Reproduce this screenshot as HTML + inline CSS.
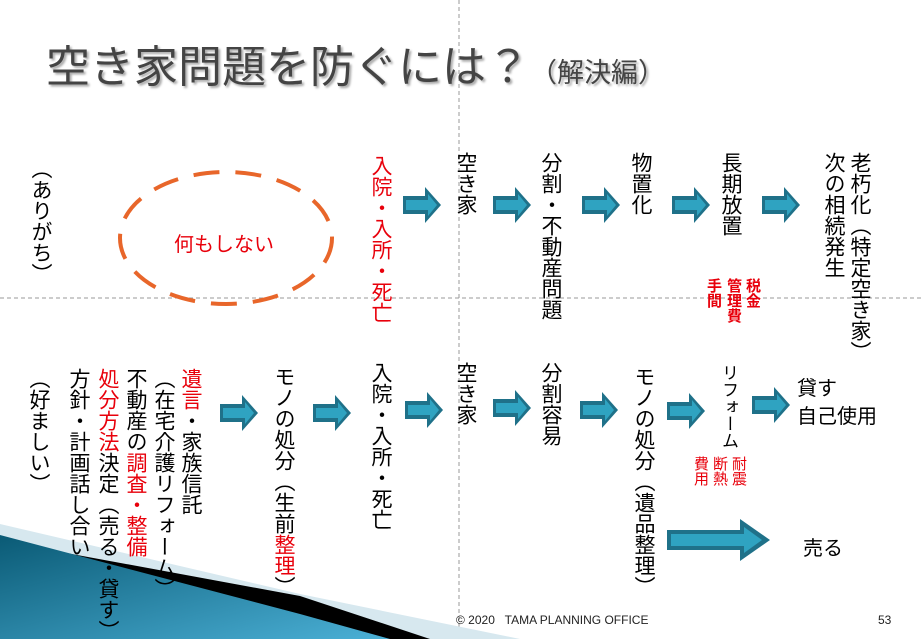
<!DOCTYPE html>
<html><head><meta charset="utf-8"><style>
body{margin:0;width:922px;height:639px;overflow:hidden;background:#fff;position:relative;font-family:"Liberation Sans","Noto Sans CJK JP",sans-serif;}
.v{position:absolute;writing-mode:vertical-rl;font-size:21px;line-height:26px;color:#000;white-space:nowrap;}
.r{color:#e8000b;}
.s{position:absolute;writing-mode:vertical-rl;font-size:15px;line-height:17px;color:#e8000b;font-weight:bold;white-space:nowrap;}
.h{position:absolute;font-size:20px;white-space:nowrap;}
svg{position:absolute;left:0;top:0;}
</style></head><body>
<svg width="922" height="639">
<defs>
<linearGradient id="bg" x1="0" y1="0" x2="1" y2="1"><stop offset="0" stop-color="#0a5a75"/><stop offset="1" stop-color="#4bb0d6"/></linearGradient>
<g id="ar"><path d="M0,-9 H22 V-18 L38,0 L22,18 V9 H0 Z" fill="#1f7189"/><path d="M3,-5 H25 V-11 L34,0 L25,11 V5 H3 Z" fill="#2fa3c1"/></g>
</defs>
<line x1="459" y1="0" x2="459" y2="639" stroke="#999" stroke-dasharray="4,3"/>
<line x1="0" y1="298" x2="922" y2="298" stroke="#999" stroke-dasharray="4,3"/>
<polygon points="0,524 300,594 520,639 0,639" fill="#d7e8ef"/>
<polygon points="50,550 300,596 430,639 0,639" fill="#000"/>
<polygon points="0,535 300,614 390,639 0,639" fill="url(#bg)"/>
<ellipse cx="226" cy="238" rx="106" ry="66" fill="none" stroke="#e8662a" stroke-width="4" stroke-dasharray="26,16"/>
<use href="#ar" x="403" y="205"/>
<use href="#ar" x="493" y="205"/>
<use href="#ar" x="582" y="205"/>
<use href="#ar" x="672" y="205"/>
<use href="#ar" x="762" y="205"/>
<use href="#ar" x="220" y="413"/>
<use href="#ar" x="313" y="413"/>
<use href="#ar" x="405" y="410"/>
<use href="#ar" x="493" y="408"/>
<use href="#ar" x="580" y="410"/>
<use href="#ar" x="667" y="411"/>
<use href="#ar" x="752" y="405"/>
<path d="M667,530 H740 V519 L770,540 L740,561 V550 H667 Z" fill="#1f7189"/>
<path d="M671,534 H744 V527 L762,540 L744,553 V546 H671 Z" fill="#2fa3c1"/>
</svg>
<div style="position:absolute;left:46px;top:42px;font-size:44px;line-height:52px;color:#444;text-shadow:2px 2px 2px #aaa;white-space:nowrap;">空き家問題を防ぐには？<span style="font-size:27px">（解決編）</span></div>

<div class="v" style="left:27px;top:158px;">（ありがち）</div>
<div class="h r" style="left:174px;top:228px;">何もしない</div>
<div class="v r" style="left:367px;top:155px;">入院・入所・死亡</div>
<div class="v" style="left:452px;top:152px;">空き家</div>
<div class="v" style="left:537px;top:152px;">分割・不動産問題</div>
<div class="v" style="left:627px;top:152px;">物置化</div>
<div class="v" style="left:717px;top:152px;">長期放置</div>
<div class="v" style="left:846px;top:152px;">老朽化（特定空き家）</div>
<div class="v" style="left:820px;top:152px;">次の相続発生</div>
<div class="s" style="left:744px;top:278px;">税金</div>
<div class="s" style="left:725px;top:278px;">管理費</div>
<div class="s" style="left:705px;top:278px;">手間</div>

<div class="v" style="left:25px;top:368px;">（好ましい）</div>
<div class="v" style="left:177px;top:368px;"><span class="r">遺言</span>・家族信託</div>
<div class="v" style="left:150px;top:368px;">（在宅介護リフォーム）</div>
<div class="v" style="left:122px;top:368px;">不動産の<span class="r">調査・整備</span></div>
<div class="v" style="left:94px;top:368px;"><span class="r">処分方法</span>決定（売る・貸す）</div>
<div class="v" style="left:65px;top:368px;">方針・計画話し合い</div>
<div class="v" style="left:270px;top:366px;">モノの処分（生前<span class="r">整理</span>）</div>
<div class="v" style="left:367px;top:362px;">入院・入所・死亡</div>
<div class="v" style="left:452px;top:362px;">空き家</div>
<div class="v" style="left:537px;top:362px;">分割容易</div>
<div class="v" style="left:630px;top:366px;">モノの処分（遺品整理）</div>
<div class="v" style="left:718px;top:364px;font-size:17px;line-height:20px;">リフォーム</div>
<div class="s" style="left:730px;top:456px;font-weight:normal;">耐震</div>
<div class="s" style="left:711px;top:456px;font-weight:normal;">断熱</div>
<div class="s" style="left:692px;top:456px;font-weight:normal;">費用</div>
<div class="h" style="left:797px;top:372px;">貸す</div>
<div class="h" style="left:797px;top:400px;">自己使用</div>
<div class="h" style="left:803px;top:532px;">売る</div>
<div style="position:absolute;left:456px;top:613px;font-size:12px;color:#222;white-space:nowrap;">© 2020 &nbsp; TAMA PLANNING OFFICE</div>
<div style="position:absolute;left:878px;top:613px;font-size:12px;color:#222;">53</div>
</body></html>
